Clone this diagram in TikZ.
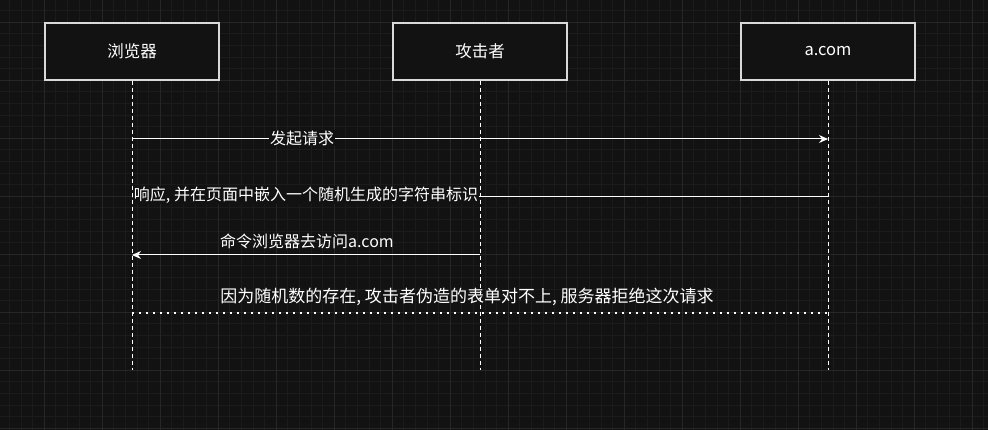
\documentclass[tikz,border=0pt]{standalone}
\usepackage{fontspec}
\setmainfont{Noto Sans CJK SC}
\usetikzlibrary{arrows.meta}
\definecolor{bgcol}{HTML}{121212}
\definecolor{gridminor}{HTML}{1B1B1B}
\definecolor{gridmajor}{HTML}{262626}
\tikzset{
  actor/.style={draw=white!85!black,line width=1.2pt,fill=bgcol,text=white,minimum width=174pt,minimum height=57pt,font=\fontsize{16.5}{19}\selectfont},
  life/.style={white,line width=1pt,dash pattern=on 4pt off 3pt},
  msg/.style={white,line width=1pt,-{Stealth[length=9pt,width=8pt]}},
  lbl/.style={fill=bgcol,text=white,inner sep=1pt,font=\fontsize{16}{19}\selectfont},
}
\begin{document}
\begin{tikzpicture}[x=1pt,y=-1pt]
\fill[bgcol] (0,0) rectangle (988,430);
\useasboundingbox (0,0) rectangle (988,430);
% grid
\foreach \i in {-3,...,82}{
  \pgfmathsetmacro\gx{44+11.6*\i}
  \draw[gridminor] (\gx,0) -- (\gx,430);
}
\foreach \i in {-1,...,35}{
  \pgfmathsetmacro\gy{22+11.6*\i}
  \draw[gridminor] (0,\gy) -- (988,\gy);
}
\foreach \i in {-1,...,16}{
  \pgfmathsetmacro\gx{44+58*\i}
  \draw[gridmajor] (\gx,0) -- (\gx,430);
}
\foreach \i in {-1,...,7}{
  \pgfmathsetmacro\gy{22+58*\i}
  \draw[gridmajor] (0,\gy) -- (988,\gy);
}
% actors
\node[actor] (browser) at (132,51.5) {浏览器};
\node[actor] (attacker) at (480,51.5) {攻击者};
\node[actor] (site) at (828,51.5) {a.com};
\coordinate (browserEnd) at (132,370);
\coordinate (attackerEnd) at (480,370);
\coordinate (siteEnd) at (828,370);
\draw[life] (browser) -- (browserEnd);
\draw[life] (attacker) -- (attackerEnd);
\draw[life] (site) -- (siteEnd);
% messages
\coordinate (b1) at (132,139); \coordinate (s1) at (828,139);
\coordinate (b2) at (132,197); \coordinate (s2) at (828,197);
\coordinate (b3) at (132,255); \coordinate (a3) at (480,255);
\coordinate (b4) at (132,313); \coordinate (s4) at (828,313);
\draw[msg] (b1) -- (s1);
\node[lbl] (m1) at (302,138) {发起请求};
\draw[msg] (s2) -- (b2);
\node[lbl] (m2) at (306,195) {响应, 并在页面中嵌入一个随机生成的字符串标识};
\draw[msg] (a3) -- (b3);
\node[lbl,fill=none] (m3) at (307,241) {命令浏览器去访问a.com};
\draw[white,line width=2pt,dash pattern=on 2pt off 5pt] (b4) -- (s4);
\node[lbl,fill=none,font=\fontsize{17}{20}\selectfont] (m4) at (467,297) {因为随机数的存在, 攻击者伪造的表单对不上, 服务器拒绝这次请求};
\end{tikzpicture}
\end{document}
